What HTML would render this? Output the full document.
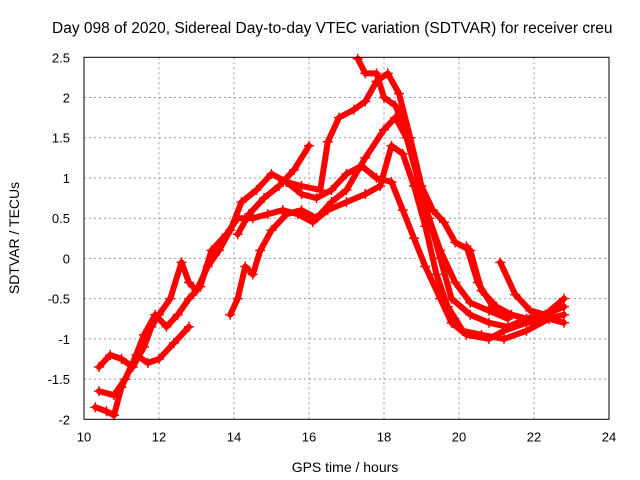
<!DOCTYPE html>
<html><head><meta charset="utf-8"><style>
body{margin:0;background:#fff;}
svg{display:block;font-family:"Liberation Sans",sans-serif;}
</style></head><body>
<svg id="chart" width="640" height="480">
<rect width="640" height="480" fill="#fff"/>
<text x="52" y="33" font-size="15.5" text-anchor="start">Day 098 of 2020, Sidereal Day-to-day VTEC variation (SDTVAR) for receiver creu</text>
<g id="grid"></g>
<g id="ticks"></g>
<g id="series"></g>
<rect x="84" y="57.3" width="525" height="362" fill="none" stroke="#000" stroke-width="1"/>
<text x="345" y="472" font-size="14" text-anchor="middle">GPS time / hours</text>
<text transform="translate(19,238) rotate(-90)" font-size="14" text-anchor="middle">SDTVAR / TECUs</text>
</svg>
<script>
const xTicks=[10,12,14,16,18,20,22,24];
const yTicks=[-2,-1.5,-1,-0.5,0,0.5,1,1.5,2,2.5];
const yTickLabels=["-2","-1.5","-1","-0.5","0","0.5","1","1.5","2","2.5"];
const t1=[[10.4,-1.35],[10.7,-1.2],[11.0,-1.25],[11.3,-1.35],[11.6,-1.1],[11.8,-0.85],[12.0,-0.7],[12.3,-0.5],[12.6,-0.05],[12.8,-0.3],[13.0,-0.4],[13.3,-0.1],[13.6,0.1],[13.9,0.35],[14.2,0.7],[14.6,0.85],[15.0,1.05],[15.4,0.95],[15.8,0.8],[16.2,0.75],[16.6,0.85],[17.0,1.05],[17.4,1.15],[17.8,1.0],[18.2,0.95],[18.5,0.6],[18.8,0.25],[19.1,-0.1],[19.5,-0.5],[19.8,-0.8],[20.2,-0.95],[20.8,-1.0],[21.2,-0.9],[21.8,-0.8],[22.4,-0.75],[22.8,-0.7]];
const t2=[[10.3,-1.85],[10.6,-1.9],[10.8,-1.95],[11.0,-1.6],[11.3,-1.3],[11.6,-0.95],[11.9,-0.7],[12.2,-0.85],[12.5,-0.7],[12.8,-0.5],[13.1,-0.35],[13.4,0.1],[13.8,0.3],[14.1,0.5],[14.5,0.5],[14.9,0.55],[15.3,0.6],[15.7,0.55],[16.1,0.45],[16.5,0.6],[17.0,0.7],[17.5,0.8],[17.9,0.9],[18.2,1.4],[18.5,1.3],[18.8,0.9],[19.1,0.4],[19.4,-0.2],[19.7,-0.6],[20.1,-0.9],[20.6,-0.95],[21.2,-1.0],[21.8,-0.9],[22.4,-0.75],[22.8,-0.8]];
const t3=[[10.4,-1.65],[10.8,-1.7],[11.1,-1.5],[11.4,-1.2],[11.7,-1.3],[12.0,-1.25],[12.4,-1.05],[12.8,-0.85]];
const t4=[[13.9,-0.7],[14.1,-0.5],[14.3,-0.1],[14.5,-0.2],[14.7,0.1],[15.0,0.35],[15.4,0.55],[15.8,0.6],[16.2,0.5],[16.6,0.7],[17.0,0.85],[17.5,1.25],[18.0,1.6],[18.3,1.75],[18.6,1.5],[18.9,1.0],[19.2,0.5],[19.5,0.0],[19.8,-0.5],[20.3,-0.7],[20.8,-0.8],[21.3,-0.85],[21.8,-0.75],[22.3,-0.7],[22.8,-0.5]];
const t5=[[14.1,0.3],[14.4,0.55],[14.8,0.75],[15.2,0.9],[15.6,1.1],[16.0,1.4]];
const t6=[[15.4,0.95],[15.8,0.9],[16.3,0.85],[16.5,1.45],[16.8,1.75],[17.2,1.85],[17.5,1.95],[17.8,2.2],[18.1,2.3],[18.4,2.05],[18.7,1.5],[19.0,0.9],[19.3,0.6],[19.6,0.45],[19.9,0.2],[20.3,0.1],[20.6,-0.4],[21.0,-0.6],[21.4,-0.7],[21.8,-0.75]];
const t7=[[17.3,2.48],[17.5,2.3],[17.8,2.3],[18.0,2.0],[18.3,1.9],[18.6,1.6],[18.9,1.0],[19.2,0.5],[19.5,0.1],[19.9,-0.3],[20.3,-0.55],[20.8,-0.65],[21.3,-0.75]];
const t8=[[20.2,0.15],[20.5,-0.3],[20.9,-0.6],[21.3,-0.75]];
const t9=[[21.1,-0.05],[21.5,-0.45],[21.9,-0.65],[22.3,-0.7],[22.8,-0.6]];
const allSeries=[t1,t2,t3,t4,t5,t6,t7,t8,t9];

const X0=84,X1=609,Y0=419.3,Y1=57.3;
const xs=v=>X0+(v-10)/(24-10)*(X1-X0);
const ys=v=>Y0-(v+2)/(4.5)*(Y0-Y1);
const NS="http://www.w3.org/2000/svg";
function mk(tag,attrs,parent){const e=document.createElementNS(NS,tag);for(const k in attrs)e.setAttribute(k,attrs[k]);parent.appendChild(e);return e;}
const grid=document.getElementById('grid'),ticks=document.getElementById('ticks'),ser=document.getElementById('series');
xTicks.forEach((v,i)=>{
  const x=xs(v);
  if(i>0&&i<xTicks.length-1){const l=mk('line',{x1:x,x2:x,y1:Y1,y2:Y0,stroke:'#999','stroke-dasharray':'2,3'},grid);
  
  }
  const t=mk('text',{x:x,y:Y0+22,'font-size':13,'text-anchor':'middle'},ticks);t.textContent=String(v);
  
  
});
yTicks.forEach((v,i)=>{
  const y=ys(v);
  if(i>0&&i<yTicks.length-1){const l=mk('line',{x1:X0,x2:X1,y1:y,y2:y,stroke:'#999','stroke-dasharray':'2,3'},grid);
  
  }
  const t=mk('text',{x:X0-14,y:y+5,'font-size':13,'text-anchor':'end'},ticks);t.textContent=yTickLabels[i];
  
  
});
allSeries.forEach((s,si)=>{
  const pts=s.map(p=>xs(p[0]).toFixed(1)+','+ys(p[1]).toFixed(1)).join(' ');
  const pl=mk('polyline',{points:pts,fill:'none',stroke:'#f00','stroke-width':6,'stroke-linejoin':'round','stroke-linecap':'round'},ser);
  
  
  s.forEach(p=>{
    const x=xs(p[0]),y=ys(p[1]);
    const m=mk('path',{d:`M${x-5},${y}H${x+5}M${x},${y-5}V${y+5}`,stroke:'#f00','stroke-width':1.5},ser);
    
    
  });
});
</script>
</body></html>
